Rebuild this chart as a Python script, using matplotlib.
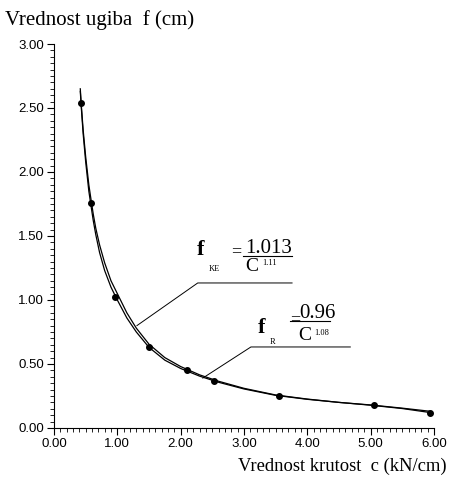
import numpy as np
import matplotlib
matplotlib.use('Agg')
import matplotlib.pyplot as plt
from matplotlib.ticker import MultipleLocator, FormatStrFormatter

# measured points
c_meas = [0.42, 0.58, 0.97, 1.50, 2.10, 2.53, 3.55, 5.05, 5.94]
f_meas = [2.54, 1.76, 1.02, 0.635, 0.453, 0.367, 0.25, 0.18, 0.117]

# curve f_KE
c_ke = [0.415, 0.43, 0.46, 0.50, 0.55, 0.58, 0.62, 0.66, 0.72, 0.80, 0.90, 1.00,
        1.15, 1.30, 1.50, 1.75, 2.00, 2.30, 2.60, 3.00, 3.50, 4.00, 4.50, 5.00,
        5.50, 5.95]
f_ke = [2.65, 2.53, 2.33, 2.12, 1.90, 1.80, 1.67, 1.56, 1.43, 1.29, 1.15, 1.05,
        0.90, 0.78, 0.655, 0.55, 0.48, 0.415, 0.365, 0.31, 0.258, 0.226, 0.20, 0.18,
        0.155, 0.13]

# curve f_R
c_r = [0.415, 0.43, 0.46, 0.50, 0.55, 0.58, 0.62, 0.66, 0.72, 0.80, 0.90, 1.00,
       1.15, 1.30, 1.50, 1.75, 2.00, 2.30, 2.60, 3.00, 3.50, 4.00, 4.50, 5.00,
       5.50, 5.95]
f_r = [2.63, 2.51, 2.30, 2.08, 1.85, 1.75, 1.62, 1.51, 1.37, 1.23, 1.10, 1.00,
       0.86, 0.75, 0.63, 0.53, 0.465, 0.405, 0.357, 0.305, 0.255, 0.224, 0.20, 0.178,
       0.152, 0.12]

serif = 'Liberation Serif'
sans = 'Liberation Sans'

fig = plt.figure(figsize=(4.49, 4.83), dpi=100)
ax = fig.add_axes([0.1203, 0.1139, 0.846, 0.795])

ax.plot(c_ke, f_ke, color='black', lw=0.9)
ax.plot(c_r, f_r, color='black', lw=0.9)
ax.plot(c_meas, f_meas, 'o', color='black', ms=4)

ax.set_xlim(0, 6)
ax.set_ylim(0, 3)
ax.spines['top'].set_visible(False)
ax.spines['right'].set_visible(False)
ax.xaxis.set_major_locator(MultipleLocator(1))
ax.xaxis.set_minor_locator(MultipleLocator(0.1))
ax.yaxis.set_major_locator(MultipleLocator(0.5))
ax.yaxis.set_minor_locator(MultipleLocator(0.05))
ax.xaxis.set_major_formatter(FormatStrFormatter('%.2f'))
ax.yaxis.set_major_formatter(FormatStrFormatter('%.2f'))
ax.tick_params(which='major', length=5, width=0.8, direction='out', pad=2)
ax.tick_params(which='minor', length=3, width=0.6, direction='out')
for lab in ax.get_xticklabels() + ax.get_yticklabels():
    lab.set_fontfamily(sans)
    lab.set_fontsize(9.5)

fig.text(5 / 449, 1 - 25 / 483, 'Vrednost ugiba  f (cm)', family=serif,
         fontsize=15, ha='left', va='baseline')
fig.text(447 / 449, 1 - 471 / 483, 'Vrednost krutost  c (kN/cm)', family=serif,
         fontsize=13.4, ha='right', va='baseline')

# f_KE label
ax.plot([1.31, 2.27, 3.76], [0.80, 1.133, 1.133], color='black', lw=0.7)
ax.text(2.26, 1.35, 'f', family=serif, fontsize=16, fontweight='bold',
        ha='left', va='baseline')
ax.text(2.45, 1.23, 'KE', family=serif, fontsize=6, ha='left', va='baseline')
ax.text(2.80, 1.38, '=', family=serif, fontsize=13, ha='left', va='center')
ax.text(3.02, 1.37, '1.013', family=serif, fontsize=15, ha='left', va='baseline')
ax.plot([2.98, 3.76], [1.344, 1.344], color='black', lw=0.8)
ax.text(3.02, 1.23, 'C', family=serif, fontsize=14, ha='left', va='baseline')
ax.text(3.29, 1.27, '1.11', family=serif, fontsize=6, ha='left', va='baseline')

# f_R label
ax.plot([2.35, 3.11, 4.68], [0.39, 0.633, 0.633], color='black', lw=0.7)
ax.text(3.22, 0.74, 'f', family=serif, fontsize=16, fontweight='bold',
        ha='left', va='baseline')
ax.text(3.41, 0.66, 'R', family=serif, fontsize=6, ha='left', va='baseline')
ax.text(3.73, 0.85, '=', family=serif, fontsize=13, ha='left', va='center')
ax.text(3.87, 0.86, '0.96', family=serif, fontsize=15, ha='left', va='baseline')
ax.plot([3.73, 4.36], [0.836, 0.836], color='black', lw=0.8)
ax.text(3.86, 0.69, 'C', family=serif, fontsize=14, ha='left', va='baseline')
ax.text(4.11, 0.73, '1.08', family=serif, fontsize=6, ha='left', va='baseline')

fig.savefig('out.png', dpi=100)
